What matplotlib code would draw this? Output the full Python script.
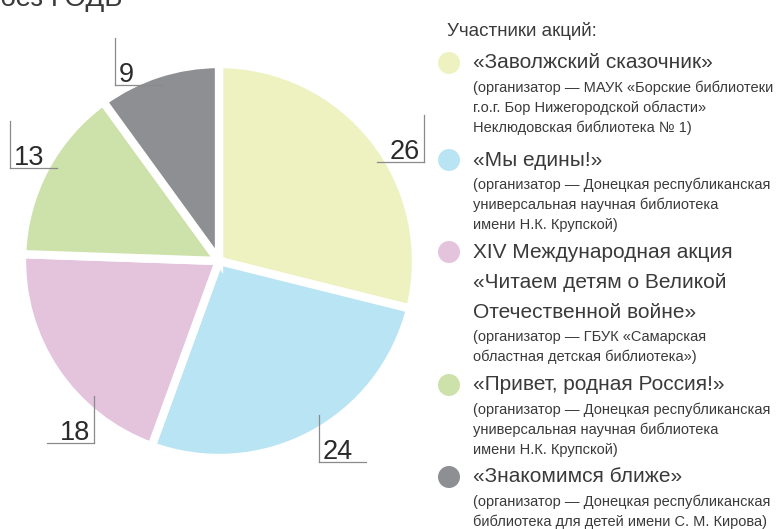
import matplotlib.pyplot as plt
from matplotlib.patches import Ellipse

# данные диаграммы
values = [26, 24, 18, 13, 9]
colors = ['#EEF2C1', '#B9E4F3', '#E4C3DD', '#CDE2AB', '#8E8F93']
titles = [
    ['«Заволжский сказочник»'],
    ['«Мы едины!»'],
    ['XIV Международная акция', '«Читаем детям о Великой', 'Отечественной войне»'],
    ['«Привет, родная Россия!»'],
    ['«Знакомимся ближе»'],
]
notes = [
    ['(организатор — МАУК «Борские библиотеки', 'г.о.г. Бор Нижегородской области»', 'Неклюдовская библиотека № 1)'],
    ['(организатор — Донецкая республиканская', 'универсальная научная библиотека', 'имени Н.К. Крупской)'],
    ['(организатор — ГБУК «Самарская', 'областная детская библиотека»)'],
    ['(организатор — Донецкая республиканская', 'универсальная научная библиотека', 'имени Н.К. Крупской)'],
    ['(организатор — Донецкая республиканская', 'библиотека для детей имени С. М. Кирова)'],
]

# положение выносок (угол выноски в радиусах круга, сторона вертикальной черты)
callouts = [(1.041, 0.503, 'r'), (0.508, -1.020, 'l'), (-0.635, -0.924, 'r'),
            (-1.061, 0.472, 'l'), (-0.528, 0.893, 'l')]

plt.rcParams['font.family'] = ['Liberation Sans', 'DejaVu Sans']

W, H = 780, 529
fig = plt.figure(figsize=(W / 100, H / 100), dpi=100)

# круг: центр (219, 261) px, радиус 197 px
R = 197
cx, cy = 219, 261
half = 1.15 * R
ax = fig.add_axes([(cx - half) / W, (H - cy - half) / H, 2 * half / W, 2 * half / H])
ax.pie(values, colors=colors, startangle=90, counterclock=False, radius=1,
       wedgeprops=dict(edgecolor='white', linewidth=6))
ax.set_xlim(-1.15, 1.15)
ax.set_ylim(-1.15, 1.15)
ax.set_aspect('equal')
ax.axis('off')

seg = 47 / R
for v, (x, y, side) in zip(values, callouts):
    ax.plot([x, x], [y, y + seg], color='#8a8a8a', lw=0.9, clip_on=False)
    if side == 'r':
        ax.plot([x - seg, x], [y, y], color='#8a8a8a', lw=0.9, clip_on=False)
        ax.text(x - 4 / R, y + 3 / R, str(v), ha='right', va='baseline',
                fontsize=19.5, color='#2b2b2b')
    else:
        ax.plot([x, x + seg], [y, y], color='#8a8a8a', lw=0.9, clip_on=False)
        ax.text(x + 4 / R, y + 3 / R, str(v), ha='left', va='baseline',
                fontsize=19.5, color='#2b2b2b')


def px(x, y):
    return x / W, 1 - y / H


# обрезанный заголовок сверху
fig.text(*px(0, 6), 'без ГОДЬ', fontsize=20, color='#3a3a3a', va='baseline', ha='left')

fig.text(*px(447, 36), 'Участники акций:', fontsize=13.5, color='#3a3a3a', va='baseline', ha='left')

# легенда
y_pos = [63, 160, 252, 385, 477]
for i in range(len(values)):
    y = y_pos[i]
    fig.add_artist(Ellipse(px(449, y), 22 / W, 22 / H, transform=fig.transFigure,
                           facecolor=colors[i], edgecolor='none'))
    for t in titles[i]:
        fig.text(*px(473, y), t, fontsize=15, color='#3a3a3a', va='center', ha='left')
        y += 30
    y = y - 30 + 25
    for t in notes[i]:
        fig.text(*px(473, y), t, fontsize=10.5, color='#3a3a3a', va='center', ha='left')
        y += 20

fig.savefig('out.png', dpi=100)
